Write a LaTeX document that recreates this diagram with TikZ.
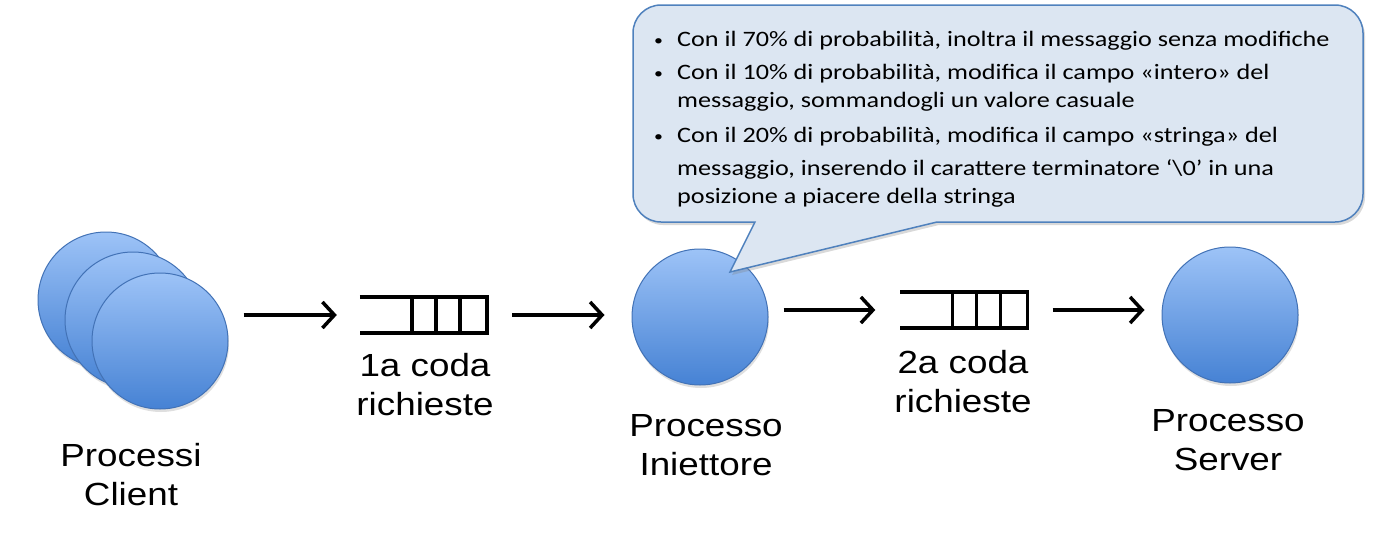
\documentclass[tikz,border=0pt]{standalone}
\usepackage{fontspec}
\setmainfont[FakeStretch=1.15]{Liberation Sans}
\newfontfamily\calibrifont[FakeStretch=1.19]{Carlito}
\usetikzlibrary{arrows.meta}
\usetikzlibrary{positioning}
\usetikzlibrary{shadows}
\definecolor{proctop}{RGB}{157,195,247}
\definecolor{procbot}{RGB}{70,130,212}
\definecolor{procline}{RGB}{66,114,182}
\definecolor{notefill}{RGB}{220,230,242}
\definecolor{noteline}{RGB}{79,129,189}
\tikzset{proc/.style = {circle, minimum size=136pt, inner sep=0pt,
                        draw=procline, line width=1pt,
                        top color=proctop, bottom color=procbot,
                        drop shadow={shadow xshift=1pt, shadow yshift=-3pt, opacity=0.25}},
         queue/.style = {minimum width=127pt, minimum height=36pt, inner sep=0pt},
         qline/.style = {line width=3.5pt, line join=miter},
         flow/.style = {line width=3.5pt, -{Straight Barb[length=12pt, width=26pt]}},
         lbl/.style = {font=\fontsize{32}{39}\selectfont, align=center, inner sep=0pt, anchor=base},
         txt/.style = {font=\calibrifont\fontsize{22}{26}\selectfont, inner sep=0pt, anchor=base west},
         dot/.style = {font=\calibrifont\fontsize{15}{18}\selectfont, inner sep=0pt, anchor=base west}}

\begin{document}
\begin{tikzpicture}[x=1pt, y=-1pt]
      \useasboundingbox (0, 0) rectangle (1373, 538);

      % processi client
      \node [proc] (c1) at (106, 300) {};
      \node [proc] (c2) at (133, 320) {};
      \node [proc] (c3) at (160, 341) {};
      \node [lbl] (lc) at (131, 505) {Processi\\Client};

      % code
      \node [queue] (q1) at (423.5, 315) {};
      \node [queue] (q2) at (964, 310) {};
      \foreach \q in {q1, q2} {
        \draw [qline] (\q.north west) -- (\q.north east) -- (\q.south east) -- (\q.south west);
        \foreach \d in {52, 76, 100}
          \draw [qline] ([xshift=\d pt]\q.north west) -- ([xshift=\d pt]\q.south west);
      }
      \node [lbl] (lq1) at (425, 415) {1a coda\\richieste};
      \node [lbl] (lq2) at (963, 412) {2a coda\\richieste};

      % processi iniettore e server
      \node [proc] (inj) at (700, 317) {};
      \node [proc] (srv) at (1230, 315) {};
      \node [lbl] (linj) at (706, 475) {Processo\\Iniettore};
      \node [lbl] (lsrv) at (1228, 470) {Processo\\Server};

      \draw [flow, shorten <=15pt, shorten >=23pt] (q1.west -| c3.east) -- (q1.west);
      \draw [flow, shorten <=25pt, shorten >=27pt] (q1.east) -- (q1.east -| inj.west);
      \draw [flow, shorten <=15pt, shorten >=25pt] (q2.west -| inj.east) -- (q2.west);
      \draw [flow, shorten <=25pt, shorten >=17pt] (q2.east) -- (q2.east -| srv.west);

      % fumetto
      \coordinate (tip) at (730, 272);
      \draw [fill=notefill, draw=noteline, line width=1.5pt,
             drop shadow={shadow xshift=2pt, shadow yshift=-3pt, opacity=0.3}]
            (755, 222) -- (tip) -- (937, 222) -- (1335, 222)
            arc [start angle=270, end angle=360, radius=28pt] -- (1363, 33)
            arc [start angle=0, end angle=90, radius=28pt] -- (661, 5)
            arc [start angle=90, end angle=180, radius=28pt] -- (633, 194)
            arc [start angle=180, end angle=270, radius=28pt] -- cycle;

      \node [dot] (b1) at (654, 45) {\textbullet};
      \node [dot] (b2) at (654, 78) {\textbullet};
      \node [dot] (b3) at (654, 141) {\textbullet};
      \node [txt] (t1) at (677, 46) {Con il 70\% di probabilità, inoltra il messaggio senza modifiche};
      \node [txt] (t2) at (677, 79) {Con il 10\% di probabilità, modifica il campo «intero» del};
      \node [txt] (t3) at (677, 107) {messaggio, sommandogli un valore casuale};
      \node [txt] (t4) at (677, 142) {Con il 20\% di probabilità, modifica il campo «stringa» del};
      \node [txt] (t5) at (677, 175) {messaggio, inserendo il carattere terminatore ‘\textbackslash 0’ in una};
      \node [txt] (t6) at (677, 203) {posizione a piacere della stringa};

    \end{tikzpicture}
\end{document}
